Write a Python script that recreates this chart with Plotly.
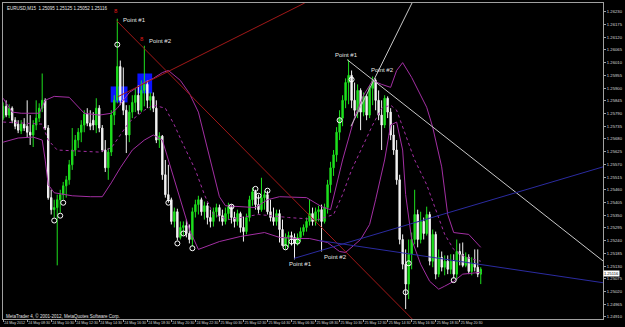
import plotly.graph_objects as go

# ---------------- data (EURUSD, M15, 24-25 May 2012) ----------------
open_ = [1.25770,1.25821,1.25783,1.25813,1.25761,1.25744,1.25714,1.25744,1.25735,1.25709,
         1.25697,1.25740,1.25770,1.25813,1.25847,1.25727,1.25426,1.25374,1.25383,1.25417,
         1.25439,1.25477,1.25503,1.25568,1.25632,1.25675,1.25709,1.25740,1.25787,1.25748,
         1.25761,1.25740,1.25813,1.25727,1.25632,1.25555,1.25623,1.25783,1.25847,1.25993,
         1.25847,1.25804,1.25697,1.25796,1.25838,1.25869,1.25804,1.25890,1.25916,1.25847,
         1.25864,1.25813,1.25675,1.25692,1.25525,1.25439,1.25417,1.25323,1.25365,1.25254,
         1.25297,1.25305,1.25271,1.25245,1.25365,1.25396,1.25417,1.25365,1.25391,1.25340,
         1.25323,1.25365,1.25383,1.25348,1.25323,1.25357,1.25387,1.25340,1.25323,1.25357,
         1.25297,1.25279,1.25340,1.25417,1.25451,1.25396,1.25374,1.25426,1.25439,1.25365,
         1.25340,1.25323,1.25357,1.25288,1.25219,1.25254,1.25262,1.25254,1.25228,1.25254,
         1.25279,1.25297,1.25323,1.25357,1.25323,1.25365,1.25374,1.25323,1.25383,1.25482,
         1.25555,1.25611,1.25709,1.25770,1.25847,1.25924,1.25955,1.25847,1.25804,1.25890,
         1.25796,1.25864,1.25783,1.25899,1.25933,1.25847,1.25783,1.25740,1.25856,1.25796,
         1.25697,1.25632,1.25503,1.25245,1.25138,1.25052,1.25181,1.25245,1.25353,1.25245,
         1.25323,1.25271,1.25353,1.25151,1.25267,1.25095,1.25168,1.25125,1.25151,1.25116,
         1.25151,1.25095,1.25193,1.25181,1.25133,1.25168,1.25107,1.25142,1.25125,1.25095]
high = [1.25838,1.25847,1.25830,1.25821,1.25774,1.25761,1.25761,1.25770,1.25847,1.25783,
        1.25761,1.25847,1.25834,1.25963,1.25856,1.25740,1.25460,1.25417,1.25439,1.25460,
        1.25494,1.25520,1.25589,1.25727,1.25697,1.25727,1.25761,1.25804,1.25813,1.25804,
        1.25796,1.25856,1.25826,1.25740,1.25675,1.25641,1.25804,1.25869,1.26200,1.26019,
        1.25989,1.25826,1.25826,1.25869,1.25899,1.25912,1.25933,1.26083,1.25933,1.25881,
        1.25881,1.25847,1.25709,1.25697,1.25589,1.25568,1.25426,1.25383,1.25378,1.25323,
        1.25323,1.25331,1.25310,1.25383,1.25417,1.25434,1.25426,1.25409,1.25404,1.25374,
        1.25383,1.25400,1.25396,1.25374,1.25383,1.25404,1.25396,1.25365,1.25374,1.25365,
        1.25344,1.25357,1.25434,1.25469,1.25460,1.25439,1.25512,1.25456,1.25456,1.25417,
        1.25383,1.25374,1.25374,1.25331,1.25271,1.25279,1.25279,1.25271,1.25271,1.25297,
        1.25310,1.25340,1.25417,1.25383,1.25383,1.25391,1.25396,1.25400,1.25503,1.25581,
        1.25632,1.25731,1.25804,1.25869,1.25942,1.26023,1.25976,1.25924,1.25916,1.25899,
        1.25881,1.25873,1.25912,1.25950,1.25942,1.25890,1.25847,1.25869,1.25864,1.25813,
        1.25740,1.25675,1.25525,1.25267,1.25202,1.25245,1.25275,1.25460,1.25374,1.25365,
        1.25340,1.25387,1.25365,1.25288,1.25279,1.25202,1.25193,1.25176,1.25176,1.25181,
        1.25181,1.25245,1.25228,1.25232,1.25189,1.25181,1.25168,1.25202,1.25202,1.25125]
low = [1.25761,1.25774,1.25770,1.25748,1.25722,1.25705,1.25701,1.25714,1.25688,1.25654,
       1.25645,1.25718,1.25753,1.25796,1.25718,1.25417,1.25353,1.25340,1.25133,1.25361,
       1.25417,1.25426,1.25482,1.25546,1.25606,1.25641,1.25666,1.25709,1.25735,1.25718,
       1.25718,1.25705,1.25709,1.25623,1.25537,1.25503,1.25606,1.25740,1.25834,1.25826,
       1.25783,1.25619,1.25666,1.25770,1.25796,1.25787,1.25796,1.25821,1.25813,1.25804,
       1.25796,1.25662,1.25641,1.25503,1.25426,1.25404,1.25310,1.25297,1.25241,1.25245,
       1.25262,1.25254,1.25228,1.25215,1.25340,1.25353,1.25348,1.25331,1.25310,1.25297,
       1.25301,1.25340,1.25323,1.25305,1.25310,1.25331,1.25314,1.25297,1.25305,1.25275,
       1.25236,1.25267,1.25323,1.25391,1.25374,1.25357,1.25365,1.25374,1.25353,1.25323,
       1.25305,1.25305,1.25232,1.25215,1.25202,1.25211,1.25219,1.25159,1.25219,1.25236,
       1.25262,1.25279,1.25305,1.25305,1.25305,1.25323,1.25193,1.25314,1.25357,1.25447,
       1.25520,1.25581,1.25675,1.25735,1.25813,1.25830,1.25813,1.25778,1.25770,1.25718,
       1.25778,1.25761,1.25770,1.25826,1.25804,1.25761,1.25632,1.25727,1.25770,1.25675,
       1.25611,1.25482,1.25224,1.25116,1.24944,1.24987,1.25116,1.25224,1.25211,1.25228,
       1.25245,1.25262,1.25133,1.25125,1.25073,1.25082,1.25107,1.25090,1.25095,1.25095,
       1.25077,1.25069,1.25133,1.25125,1.25125,1.25095,1.25090,1.25107,1.25082,1.25052]
close = [1.25821,1.25783,1.25813,1.25761,1.25735,1.25718,1.25744,1.25727,1.25709,1.25697,
         1.25740,1.25770,1.25813,1.25847,1.25727,1.25426,1.25374,1.25383,1.25417,1.25439,
         1.25477,1.25503,1.25568,1.25632,1.25675,1.25709,1.25740,1.25787,1.25748,1.25735,
         1.25740,1.25813,1.25727,1.25632,1.25555,1.25623,1.25783,1.25847,1.25993,1.25847,
         1.25804,1.25697,1.25796,1.25838,1.25869,1.25804,1.25890,1.25916,1.25847,1.25864,
         1.25813,1.25675,1.25692,1.25525,1.25439,1.25417,1.25323,1.25365,1.25254,1.25297,
         1.25305,1.25271,1.25245,1.25365,1.25396,1.25417,1.25365,1.25391,1.25340,1.25323,
         1.25365,1.25383,1.25348,1.25323,1.25357,1.25387,1.25340,1.25323,1.25357,1.25297,
         1.25279,1.25340,1.25417,1.25451,1.25396,1.25374,1.25426,1.25439,1.25365,1.25340,
         1.25323,1.25357,1.25288,1.25219,1.25254,1.25262,1.25254,1.25228,1.25254,1.25279,
         1.25297,1.25323,1.25357,1.25323,1.25365,1.25374,1.25323,1.25383,1.25482,1.25555,
         1.25611,1.25709,1.25770,1.25847,1.25924,1.25955,1.25847,1.25804,1.25890,1.25796,
         1.25864,1.25783,1.25899,1.25933,1.25847,1.25783,1.25740,1.25856,1.25796,1.25697,
         1.25632,1.25503,1.25245,1.25138,1.25052,1.25181,1.25245,1.25353,1.25245,1.25323,
         1.25271,1.25353,1.25151,1.25267,1.25095,1.25168,1.25125,1.25151,1.25116,1.25151,
         1.25095,1.25193,1.25181,1.25133,1.25168,1.25107,1.25142,1.25125,1.25095,1.25116]

# Bollinger bands (sampled bars, prices)
bb_upper_bars = [0,3,6,12,14,17,22,25,27,32,36,38,42,47,50,53,55,59,62,65,69,72,74,84,88,92,
                 101,106,109,113,117,120,123,126,129,131,133,136,141,143,146,148,150,155,159]
bb_upper = [1.25856,1.25796,1.25791,1.25791,1.25847,1.25864,1.25860,1.25821,1.25791,1.25783,
            1.25791,1.25813,1.25881,1.25924,1.25942,1.25967,1.25976,1.25933,1.25877,1.25796,
            1.25589,1.25430,1.25391,1.25383,1.25417,1.25430,1.25426,1.25387,1.25374,1.25589,
            1.25774,1.25869,1.25933,1.25916,1.25903,1.25976,1.26010,1.25946,1.25817,1.25731,
            1.25559,1.25353,1.25275,1.25267,1.25211]
bb_lower_bars = [0,5,10,13,14,15,17,23,29,33,36,39,43,47,50,53,55,59,62,65,72,79,87,92,98,
                 102,108,112,114,119,122,124,127,129,131,133,134,136,139,142,145,147,150,153,159]
bb_lower = [1.25666,1.25684,1.25688,1.25675,1.25589,1.25482,1.25447,1.25434,1.25430,1.25430,
            1.25490,1.25555,1.25632,1.25675,1.25697,1.25675,1.25589,1.25417,1.25288,1.25202,
            1.25236,1.25258,1.25275,1.25254,1.25249,1.25249,1.25232,1.25193,1.25189,1.25245,
            1.25310,1.25417,1.25589,1.25740,1.25753,1.25632,1.25439,1.25245,1.25138,1.25064,
            1.25030,1.25043,1.25064,1.25095,1.25103]
bb_mid_bars = [0,13,15,18,32,36,39,42,47,50,54,57,60,64,67,70,75,85,95,105,110,113,116,119,
               123,126,129,131,134,137,141,144,147,150,154,159]
bb_mid = [1.25753,1.25744,1.25675,1.25632,1.25623,1.25641,1.25697,1.25753,1.25804,1.25826,
          1.25813,1.25740,1.25654,1.25546,1.25439,1.25353,1.25331,1.25353,1.25340,1.25331,
          1.25353,1.25439,1.25546,1.25632,1.25740,1.25813,1.25826,1.25804,1.25697,1.25589,
          1.25482,1.25374,1.25267,1.25202,1.25168,1.25151]

# fractal circles
circle_bars = [17,19,20,38,55,58,60,63,76,84,85,88,94,96,98,112,116,134,135,150]
circle_prices = [1.25327,1.25348,1.25404,1.26088,1.25404,1.25228,1.25271,1.25207,1.25387,1.25464,
                 1.25434,1.25456,1.25211,1.25236,1.25236,1.25761,1.25937,1.25017,1.25142,1.25069]

# trend lines: (bar0, price0, bar1, price1, colour)
trend_lines = [
    (37.8, 1.26191, 136.5, 1.24897, "#a01818"),
    (38.1, 1.25862, 100.4, 1.26268, "#a01818"),
    (114.5, 1.26023, 200.7, 1.25142, "#c8c8c8"),
    (115.8, 1.25735, 136.8, 1.26286, "#c8c8c8"),
    (96.8, 1.25163, 200.7, 1.25563, "#2b2ba0"),
    (105.0, 1.25241, 200.7, 1.25056, "#2b2ba0"),
]
# rectangles: (bar0, bar1, price0, price1)
rects = [(35.8, 41.4, 1.25838, 1.25907), (44.7, 49.6, 1.25877, 1.25963)]

# text labels: (text, bar, price)
point_labels = [("Point #1", 39.1, 1.26195), ("Point #2", 48.0, 1.26105),
                ("Point #1", 109.9, 1.26045), ("Point #2", 121.7, 1.25980),
                ("Point #1", 94.5, 1.25138), ("Point #2", 106.0, 1.25168)]
arrow_marks = [(37.5, 1.26234), (46.3, 1.26114)]

y_ticks = [1.26230,1.26175,1.26120,1.26065,1.26010,1.25955,1.25900,1.25845,1.25790,1.25735,
           1.25680,1.25625,1.25570,1.25515,1.25460,1.25405,1.25350,1.25295,1.25240,1.25185,
           1.25130,1.25075,1.25020,1.24965,1.24910]
x_tick_bars = [0,8,16,24,32,40,48,56,64,72,80,88,96,104,112,120,128,136,144,152]
x_tick_labels = ["24 May 2012","24 May 08:30","24 May 10:30","24 May 12:30","24 May 14:30",
                 "24 May 16:30","24 May 18:30","24 May 20:30","24 May 22:30","25 May 00:30",
                 "25 May 02:30","25 May 04:30","25 May 06:30","25 May 08:30","25 May 10:30",
                 "25 May 12:30","25 May 14:30","25 May 16:30","25 May 18:30","25 May 20:30"]

GREEN = "#1ee01e"
WHITE = "#f2f2f2"
PURPLE = "#a32fa3"
FONT = "Liberation Sans, Arial, sans-serif"

bars = list(range(len(open_)))
fig = go.Figure()

for (x0, x1, p0, p1) in rects:
    fig.add_shape(type="rect", x0=x0, x1=x1, y0=p0, y1=p1, xref="x", yref="y",
                  fillcolor="#0a12ff", line=dict(width=0), layer="below")

fig.add_trace(go.Candlestick(
    x=bars, open=open_, high=high, low=low, close=close,
    increasing=dict(line=dict(color=GREEN, width=1), fillcolor=GREEN),
    decreasing=dict(line=dict(color=WHITE, width=1), fillcolor=WHITE),
    whiskerwidth=0, showlegend=False, hoverinfo="skip"))

fig.add_trace(go.Scatter(x=bb_upper_bars, y=bb_upper, mode="lines",
                         line=dict(color=PURPLE, width=1), showlegend=False, hoverinfo="skip"))
fig.add_trace(go.Scatter(x=bb_lower_bars, y=bb_lower, mode="lines",
                         line=dict(color=PURPLE, width=1), showlegend=False, hoverinfo="skip"))
fig.add_trace(go.Scatter(x=bb_mid_bars, y=bb_mid, mode="lines",
                         line=dict(color=PURPLE, width=1, dash="dot"), showlegend=False,
                         hoverinfo="skip"))

for (b0, p0, b1, p1, col) in trend_lines:
    fig.add_trace(go.Scatter(x=[b0, b1], y=[p0, p1], mode="lines",
                             line=dict(color=col, width=1), showlegend=False, hoverinfo="skip"))

fig.add_trace(go.Scatter(x=circle_bars, y=circle_prices, mode="markers",
                         marker=dict(symbol="circle-open", size=5, color="white",
                                     line=dict(width=1, color="white")),
                         showlegend=False, hoverinfo="skip"))

for (txt, b, p) in point_labels:
    fig.add_annotation(x=b, y=p, xref="x", yref="y", text=txt, showarrow=False,
                       xanchor="left", yanchor="middle",
                       font=dict(family=FONT, size=6, color="#e6e6e6"))
for (b, p) in arrow_marks:
    fig.add_annotation(x=b, y=p, xref="x", yref="y", text="8", showarrow=False,
                       xanchor="center", yanchor="middle",
                       font=dict(family=FONT, size=6, color="#e01818"))

fig.add_annotation(x=0.004, y=0.984, xref="paper", yref="paper",
                   text="EURUSD,M15  %.5f %.5f %.5f %.5f" % (open_[-1], high[-1], low[-1], close[-1]),
                   showarrow=False, xanchor="left", yanchor="middle",
                   font=dict(family=FONT, size=4.5, color="#e6e6e6"))
fig.add_annotation(x=0.002, y=0.01, xref="paper", yref="paper",
                   text="MetaTrader 4, © 2001-2012, MetaQuotes Software Corp.",
                   showarrow=False, xanchor="left", yanchor="middle",
                   font=dict(family=FONT, size=4.5, color="#e6e6e6"))
fig.add_annotation(x=1.0, y=close[-1], xref="paper", yref="y", text="%.5f" % close[-1],
                   showarrow=False, xanchor="left", yanchor="top", yshift=-1, bgcolor="white",
                   borderpad=0, font=dict(family=FONT, size=4, color="black"))

fig.update_layout(
    width=625, height=327,
    margin=dict(l=2, r=14, t=2, b=7),
    paper_bgcolor="black", plot_bgcolor="black",
    boxgap=0.35,
    showlegend=False,
    xaxis=dict(range=[-0.05, 199.7], showgrid=False, zeroline=False,
               rangeslider=dict(visible=False),
               tickmode="array", tickvals=x_tick_bars, ticktext=x_tick_labels,
               tickangle=0,
               ticks="outside", ticklen=2, tickcolor="#a0a0a0",
               ticklabelposition="outside right",
               tickfont=dict(family=FONT, size=3.6, color="#d8d8d8"),
               showline=True, mirror=True, linecolor="#a0a0a0", linewidth=1),
    yaxis=dict(range=[1.24901, 1.26268], side="right", showgrid=False, zeroline=False,
               tickmode="array", tickvals=y_ticks, tickformat=".5f",
               ticks="outside", ticklen=2, tickcolor="#a0a0a0",
               tickfont=dict(family=FONT, size=4.2, color="#d8d8d8"),
               showline=True, mirror=True, linecolor="#a0a0a0", linewidth=1),
)

fig.write_html("out.html")
